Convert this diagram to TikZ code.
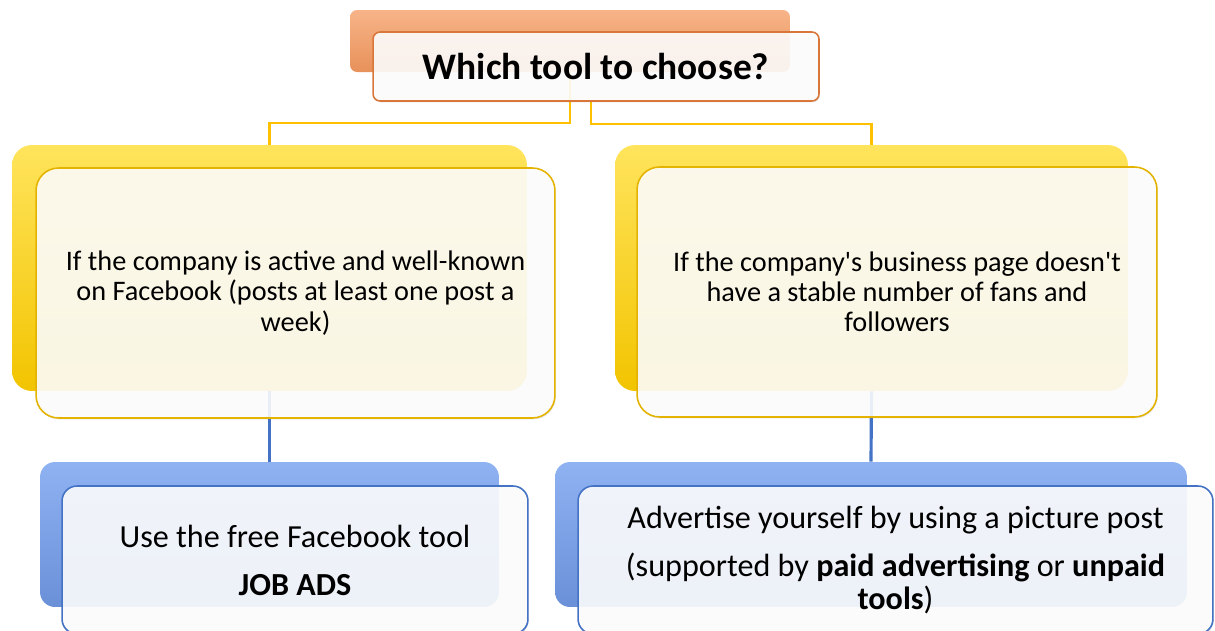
\documentclass[tikz,border=0pt]{standalone}
\usepackage{fontspec}
\setmainfont{Carlito}
\usetikzlibrary{backgrounds,shadows}
\definecolor{camA}{HTML}{F7B488}
\definecolor{camB}{HTML}{E8915A}
\definecolor{camvien}{HTML}{D9773A}
\definecolor{vangA}{HTML}{FFE45C}
\definecolor{vangB}{HTML}{F2C400}
\definecolor{vangvien}{HTML}{E3B300}
\definecolor{xanhA}{HTML}{8FB2F2}
\definecolor{xanhB}{HTML}{6A90D8}
\definecolor{xanhvien}{HTML}{4472C4}
\definecolor{noi}{HTML}{FFC000}
\begin{document}
\begin{tikzpicture}[x=0.02cm, y=-0.02cm, line join=round, line cap=round,
	back/.style={inner sep=0pt, draw=none},
	front/.style={inner sep=0pt, line width=0.9pt, fill=white, fill opacity=0.88, text opacity=1, align=center,
		drop shadow={opacity=0.2, shadow xshift=0.5pt, shadow yshift=-0.8pt}},
	yline/.style={draw=noi, line width=1.2pt},
	bline/.style={draw=xanhvien, line width=1.8pt}]
	\def\ytxt{\fontsize{16.1pt}{17.2pt}\selectfont} \def\btxt{\fontsize{18.3pt}{18.8pt}\selectfont}
	\useasboundingbox (0,0) rectangle (1215,630);
	% khung sau
	\node[back, rounded corners=0.14cm, top color=camA, bottom color=camB, minimum width=8.8cm, minimum height=1.24cm] (tb) at (570,41) {};
	\node[back, rounded corners=0.4cm, top color=vangA, bottom color=vangB, minimum width=10.3cm, minimum height=4.92cm] (yl0) at (269.5,268) {};
	\node[back, rounded corners=0.4cm, top color=vangA, bottom color=vangB, minimum width=10.26cm, minimum height=4.92cm] (yr0) at (871.5,268) {};
	\node[back, rounded corners=0.3cm, top color=xanhA, bottom color=xanhB, minimum width=9.18cm, minimum height=2.9cm] (bl0) at (269.5,534.5) {};
	\node[back, rounded corners=0.3cm, top color=xanhA, bottom color=xanhB, minimum width=12.64cm, minimum height=2.9cm] (br0) at (871,534.5) {};
	% khung truoc
	\node[front, draw=camvien, rounded corners=0.14cm, minimum width=8.92cm, minimum height=1.38cm, font=\fontsize{21.3pt}{25pt}\selectfont\bfseries] (tf) at (596,66.5)
		{Which tool to choose?};
	\node[front, draw=vangvien, rounded corners=0.45cm, minimum width=10.38cm, minimum height=5cm, font=\ytxt] (yl) at (295.5,293)
		{If the company is active and well-known\\ on Facebook (posts at least one post a\\ week)};
	\node[front, draw=vangvien, rounded corners=0.45cm, minimum width=10.4cm, minimum height=5cm, font=\ytxt] (yr) at (897,292)
		{If the company\textquotesingle s business page doesn\textquotesingle t\\ have a stable number of fans and\\ followers};
	\node[front, draw=xanhvien, rounded corners=0.3cm, minimum width=9.32cm, minimum height=2.96cm, font=\btxt] (bl) at (295,560)
		{Use the free Facebook tool\\[8.5pt] \textbf{JOB ADS}};
	\node[front, draw=xanhvien, rounded corners=0.3cm, minimum width=12.7cm, minimum height=2.96cm, font=\btxt] (br) at (895.5,560)
		{Advertise yourself by using a picture post\\[8.5pt] (supported by \textbf{paid advertising} or \textbf{unpaid}\\ \textbf{tools})};
	\begin{scope}[on background layer]
		\draw[yline] (tb.south) -- ++(0,51) -| (yl0.north);
		\draw[yline] ([xshift=-0.1cm]tf.south) -- ++(0,22) -| (yr0.north);
		\draw[bline] (yl0.south) -- (bl0.north);
		\draw[bline] (yr0.south) -- (br0.north);
	\end{scope}
\end{tikzpicture}
\end{document}
